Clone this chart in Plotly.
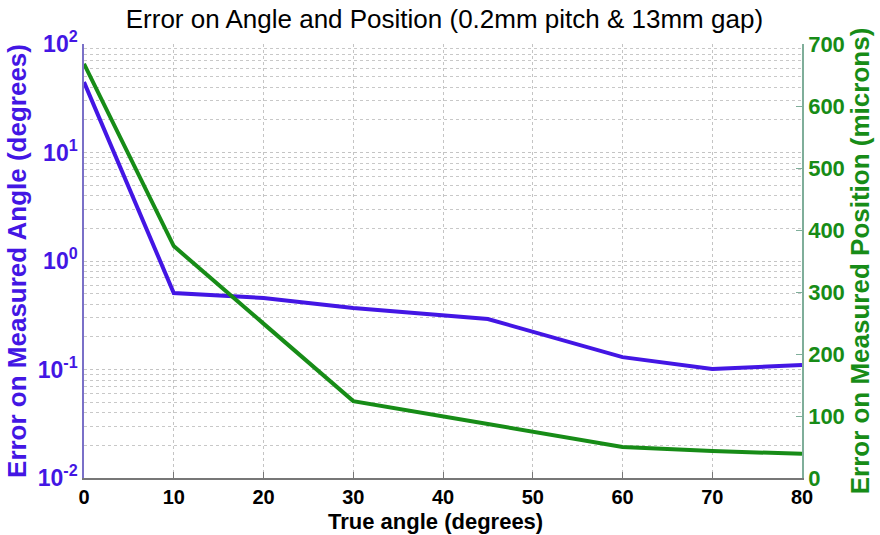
import plotly.graph_objects as go

# True angle (degrees)
angles = [0, 10, 20, 30, 45, 60, 70, 80]
# Error on measured angle (degrees), log scale
angle_error = [44.6, 0.507, 0.456, 0.369, 0.292, 0.130, 0.101, 0.110]
# Error on measured position (microns)
position_error = [668, 374, 249, 124, 87, 50, 43.5, 39]

x_tickvals = [0, 10, 20, 30, 40, 50, 60, 70, 80]
log_tickvals = [0.01, 0.1, 1, 10, 100]
log_exponents = ["-2", "-1", "0", "1", "2"]
pos_tickvals = [0, 100, 200, 300, 400, 500, 600, 700]

BLUE = "#4316E4"
GREEN = "#178C17"
FONT = "Liberation Sans, Arial, sans-serif"

minor_log = [k * 10 ** e for e in range(-2, 2) for k in range(2, 10)]

fig = go.Figure()
fig.add_trace(go.Scatter(x=angles, y=angle_error, mode="lines",
                         line=dict(color=BLUE, width=4), yaxis="y"))
fig.add_trace(go.Scatter(x=angles, y=position_error, mode="lines",
                         line=dict(color=GREEN, width=4), yaxis="y2"))

fig.update_layout(
    width=880, height=535,
    margin=dict(l=84, r=78, t=44, b=57),
    paper_bgcolor="white", plot_bgcolor="white",
    showlegend=False,
    font=dict(family=FONT),
    title=dict(text="Error on Angle and Position (0.2mm pitch &amp; 13mm gap)",
               x=0.505, xanchor="center", y=0.965, yanchor="middle",
               font=dict(size=26, color="#000000", family=FONT)),
    xaxis=dict(
        range=[0, 80], tickvals=x_tickvals,
        ticktext=[f"<b>{v}</b>" for v in x_tickvals],
        showgrid=True, gridcolor="#c4c4c4", griddash="dot", gridwidth=1,
        showline=True, linecolor="#777777", linewidth=1.5,
        ticks="inside", ticklen=6, tickcolor="#777777",
        zeroline=False, automargin=False,
        tickfont=dict(size=20, color="black"),
    ),
    yaxis=dict(
        type="log", range=[-2, 2],
        tickvals=log_tickvals,
        ticktext=[f"<b>10<sup>{e}</sup></b>" for e in log_exponents],
        showgrid=True, gridcolor="#c4c4c4", griddash="dot", gridwidth=1,
        minor=dict(tickvals=minor_log, showgrid=True, gridcolor="#c8c8c8",
                   griddash="dot", ticks=""),
        showline=True, linecolor="#7a70c8", linewidth=1.5,
        ticks="", zeroline=False, automargin=False,
        tickfont=dict(size=23, color=BLUE),
        title=dict(text="<b>Error on Measured Angle (degrees)</b>", standoff=4,
                   font=dict(size=26, color=BLUE)),
    ),
    yaxis2=dict(
        overlaying="y", side="right", range=[0, 700],
        tickvals=pos_tickvals,
        ticktext=[f"<b>{v}</b>" for v in pos_tickvals],
        showgrid=False, zeroline=False, automargin=False,
        showline=True, linecolor="#7fae9a", linewidth=1.5,
        ticks="inside", ticklen=6, tickcolor="#7fae9a",
        tickfont=dict(size=22, color=GREEN),
        title=dict(text="<b>Error on Measured Position (microns)</b>", standoff=6,
                   font=dict(size=26, color=GREEN)),
    ),
    annotations=[dict(
        text="<b>True angle (degrees)</b>", xref="paper", yref="paper",
        x=0.49, y=-0.101, xanchor="center", yanchor="middle", showarrow=False,
        font=dict(size=22, color="black"),
    )],
)

fig.write_html("out.html")
